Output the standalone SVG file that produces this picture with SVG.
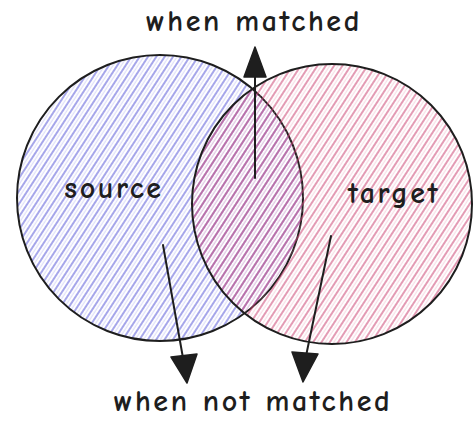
<svg xmlns="http://www.w3.org/2000/svg" width="476" height="421" viewBox="0 0 476 421">
<style>
.ring{fill:none;stroke:#1e1e1e;stroke-width:2;}
.lbl{font-family:"Comic Neue","Liberation Sans",sans-serif;font-size:30px;font-weight:bold;fill:#1e1e1e;text-anchor:middle;letter-spacing:2.6px;}
.edge{stroke:#1e1e1e;stroke-width:2;fill:none;stroke-linecap:round;}
.head{fill:#1e1e1e;stroke:#1e1e1e;stroke-width:1.5;stroke-linejoin:round;}
</style>
<defs>
<pattern id="hb" width="7" height="10" patternUnits="userSpaceOnUse" patternTransform="rotate(33)">
<line x1="1" y1="0" x2="1" y2="10" stroke="#5a5ad8" stroke-width="1.2" opacity="0.9"/>
<line x1="4.3" y1="0" x2="4.3" y2="10" stroke="#8c8ce6" stroke-width="0.7" opacity="0.5"/>
</pattern>
<pattern id="hr" width="7" height="10" patternUnits="userSpaceOnUse" patternTransform="rotate(33)">
<line x1="1" y1="0" x2="1" y2="10" stroke="#cc4675" stroke-width="1.2" opacity="0.9"/>
<line x1="4.3" y1="0" x2="4.3" y2="10" stroke="#e58aa8" stroke-width="0.7" opacity="0.5"/>
</pattern>
</defs>
<g id="source">
<circle cx="160" cy="198" r="143" fill="url(#hb)"/>
<circle class="ring" cx="160" cy="198" r="143"/>
<text class="lbl" x="114" y="198">source</text>
</g>
<g id="target">
<circle cx="332" cy="204" r="140" fill="url(#hr)"/>
<circle class="ring" cx="332" cy="204" r="140"/>
<text class="lbl" x="394" y="203">target</text>
</g>
<g id="labels">
<text class="lbl" x="254" y="31">when matched</text>
<text class="lbl" x="253" y="411">when not matched</text>
</g>
<g id="connectors">
<line class="edge" x1="255" y1="178" x2="255" y2="72"/>
<polygon class="head" points="255,47 244,77 266,77"/>
<line class="edge" x1="163" y1="245" x2="183" y2="358"/>
<polygon class="head" points="187,383 171,357 197,354"/>
<line class="edge" x1="331" y1="236" x2="306" y2="356"/>
<polygon class="head" points="303,382 292,352 318,354"/>
</g>
</svg>
